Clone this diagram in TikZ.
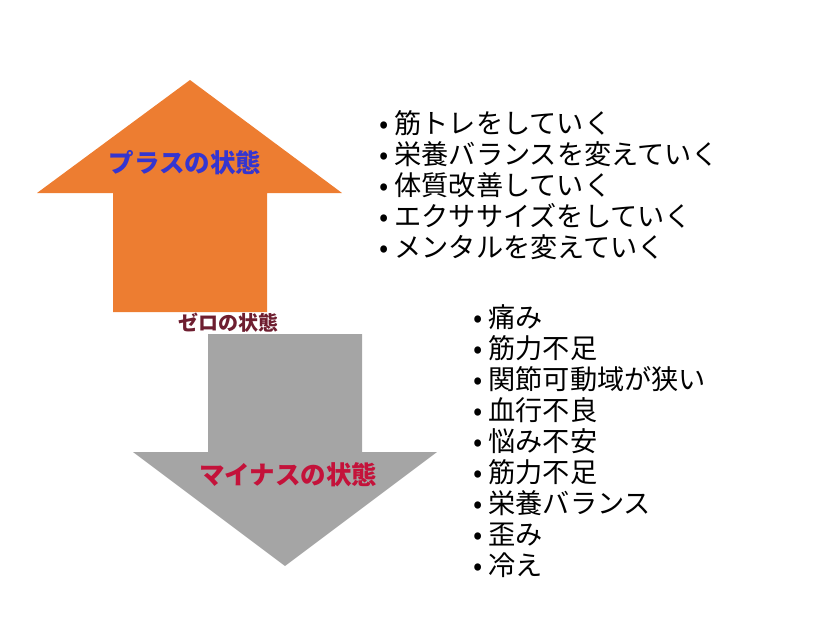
\documentclass[tikz,border=0pt]{standalone}
\usepackage{fontspec}
\setmainfont{Noto Sans CJK JP}
\usepackage{tikz}
\usetikzlibrary{calc}
\definecolor{plusorange}{HTML}{ED7D31}
\definecolor{minusgray}{HTML}{A5A5A5}
\definecolor{plusblue}{HTML}{3535D0}
\definecolor{zeromaroon}{HTML}{6E1E30}
\definecolor{minuscrimson}{HTML}{C4123A}
\newcommand{\itemdot}{•\hspace{6pt}}
\tikzset{
  statelabel/.style={font=\fontsize{25.5}{30}\selectfont\bfseries, inner sep=0pt},
  itemlist/.style={align=left, anchor=west, inner sep=0pt, font=\fontsize{27.2}{31}\selectfont}
}
\begin{document}
\begin{tikzpicture}[x=1pt, y=-1pt]
        \useasboundingbox (0,0) rectangle (816,641);
        % arrows
        \fill[plusorange] (190,80) -- (342,193) -- (267,193) -- (267,312) -- (113,312) -- (113,193) -- (37,193) -- cycle;
        \fill[minusgray] (208,334) -- (362,334) -- (362,452) -- (437,452) -- (285,566) -- (133,452) -- (208,452) -- cycle;

        % state labels
        \node[statelabel, text=plusblue](plus) at (185,163) {プラスの状態};
        \node[statelabel, text=zeromaroon, font=\fontsize{20}{22}\selectfont\bfseries](zero) at (228,323) {ゼロの状態};
        \node[statelabel, text=minuscrimson](minus) at (288,475) {マイナスの状態};

        % lists
        \node[itemlist](pluslist) at (379,185) {\itemdot 筋トレをしていく\\\itemdot 栄養バランスを変えていく\\\itemdot 体質改善していく\\\itemdot エクササイズをしていく\\\itemdot メンタルを変えていく};
        \node[itemlist](minuslist) at (473,441) {\itemdot 痛み\\\itemdot 筋力不足\\\itemdot 関節可動域が狭い\\\itemdot 血行不良\\\itemdot 悩み不安\\\itemdot 筋力不足\\\itemdot 栄養バランス\\\itemdot 歪み\\\itemdot 冷え};
\end{tikzpicture}
\end{document}
